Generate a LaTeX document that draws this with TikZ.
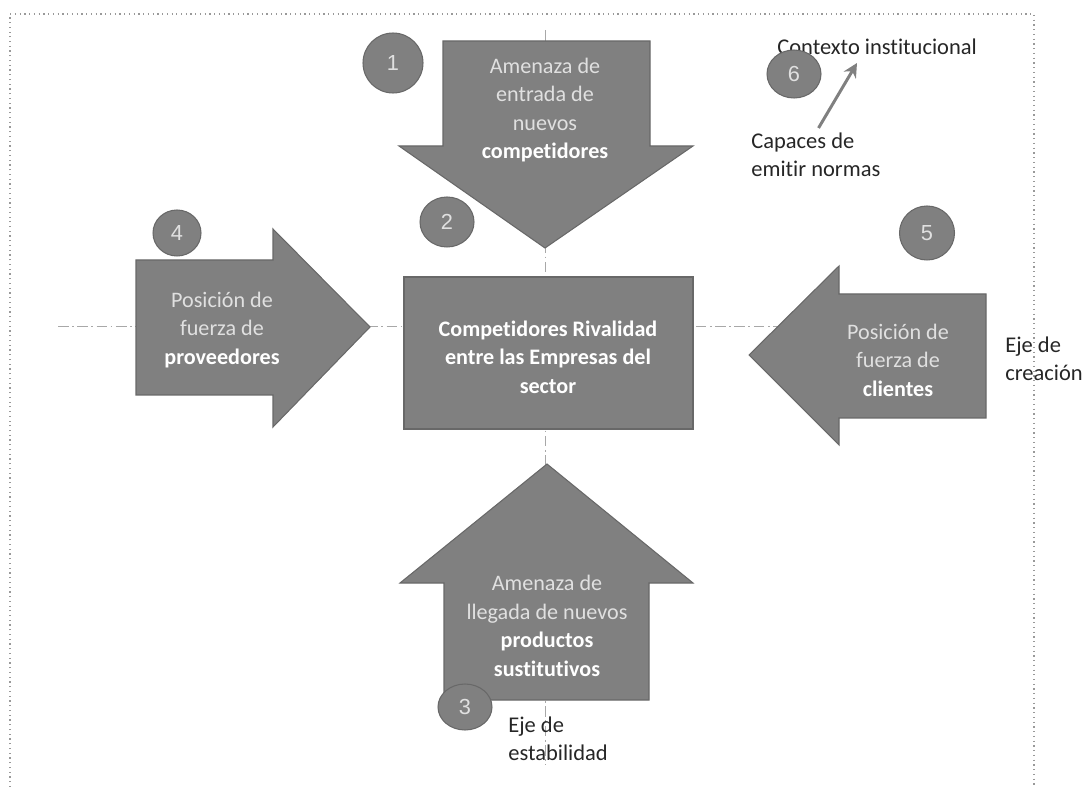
\documentclass[tikz,border=0pt]{standalone}
\usepackage{fontspec}
\setmainfont{Carlito}[Ligatures=NoCommon]
\newfontfamily\digitfont{Liberation Sans}
\usetikzlibrary{arrows.meta,shapes.geometric}
\definecolor{shapegray}{HTML}{808080}
\definecolor{edgegray}{HTML}{686868}
\definecolor{paletext}{HTML}{E0E0E0}
\definecolor{axisgray}{HTML}{A8A8A8}
\definecolor{labeltext}{HTML}{262626}

\begin{document}
\begin{tikzpicture}[x=0.02cm,y=-0.02cm,
    force/.style={fill=shapegray,draw=edgegray,line width=0.6pt},
    forcetext/.style={text=paletext,align=center,inner sep=0pt,font=\fontsize{12.6}{16.2}\selectfont},
    num/.style={ellipse,fill=shapegray,draw=edgegray,line width=0.6pt,inner sep=0pt,text=paletext,font=\digitfont\fontsize{12.4}{13}\selectfont},
    note/.style={text=labeltext,align=left,anchor=west,inner sep=0pt,font=\fontsize{12.8}{16.2}\selectfont},
    axis/.style={axisgray,line width=0.5pt,dash pattern=on 6pt off 2pt on 1pt off 2pt},
    pointer/.style={shapegray,line width=1.7pt,-{Stealth[length=8pt,width=8pt]}}]
    \useasboundingbox (0,0) rectangle (1086,787);
    % frame of the page
    \draw[gray!80,dotted,line width=0.7pt] (10,787) -- (10,14) -- (1034,14) -- (1034,787);
    % axes
    \draw[axis] (545,30) -- (545,765);
    \draw[axis] (58,326) -- (900,326);
    % the five forces
    \draw[force] (443,41) -- (650,41) -- (650,146) -- (693,146) -- (545,248) -- (399,146) -- (443,146) -- cycle;
    \draw[force] (136,260) -- (273,260) -- (273,229) -- (370,327) -- (273,427) -- (273,395) -- (136,395) -- cycle;
    \draw[force] (986,294) -- (839,294) -- (839,266) -- (749,355) -- (839,445) -- (839,418) -- (986,418) -- cycle;
    \draw[force] (444,700) -- (649,700) -- (649,583) -- (693,583) -- (547,464) -- (400,583) -- (444,583) -- cycle;
    \draw[force] (404,277) rectangle (693,429);
    \node[forcetext] (entrada) at (545,110) {Amenaza de\\entrada de\\nuevos\\\textcolor{white}{\bfseries competidores}};
    \node[forcetext] (proveedores) at (222,330) {Posición de\\fuerza de\\\textcolor{white}{\bfseries proveedores}};
    \node[forcetext] (clientes) at (898,360) {Posición de\\fuerza de\\\textcolor{white}{\bfseries clientes}};
    \node[forcetext] (sustitutos) at (547,626) {Amenaza de\\llegada de nuevos\\\textcolor{white}{\bfseries productos}\\\textcolor{white}{\bfseries sustitutivos}};
    \node[forcetext,text=white,font=\bfseries\fontsize{12.6}{16.2}\selectfont] (rivalidad) at (548,357) {Competidores Rivalidad\\entre las Empresas del\\sector};
    % labels outside the shapes
    \node[note] (contexto) at (777,47) {Contexto institucional};
    \node[note] (capaces) at (751,155) {Capaces de\\emitir normas};
    \node[note] (estabilidad) at (508,739) {Eje de\\estabilidad};
    \node[note] (creacion) at (1005,359) {Eje de\\creación};
    \coordinate (ctxtip) at (857,63);
    \draw[pointer,shorten <=3pt] (capaces.north) -- (ctxtip);
    % numbered marks
    \node[num,minimum width=1.2cm,minimum height=1.2cm] (n1) at (393,63) {1};
    \node[num,minimum width=1.08cm,minimum height=1cm] (n2) at (447,222) {2};
    \node[num,minimum width=1.08cm,minimum height=0.92cm] (n3) at (465,707) {3};
    \node[num,minimum width=0.96cm,minimum height=0.92cm] (n4) at (177,233) {4};
    \node[num,minimum width=1.1cm,minimum height=1.08cm] (n5) at (927,233) {5};
    \node[num,minimum width=1.08cm,minimum height=0.96cm] (n6) at (794,74) {6};
\end{tikzpicture}
\end{document}
